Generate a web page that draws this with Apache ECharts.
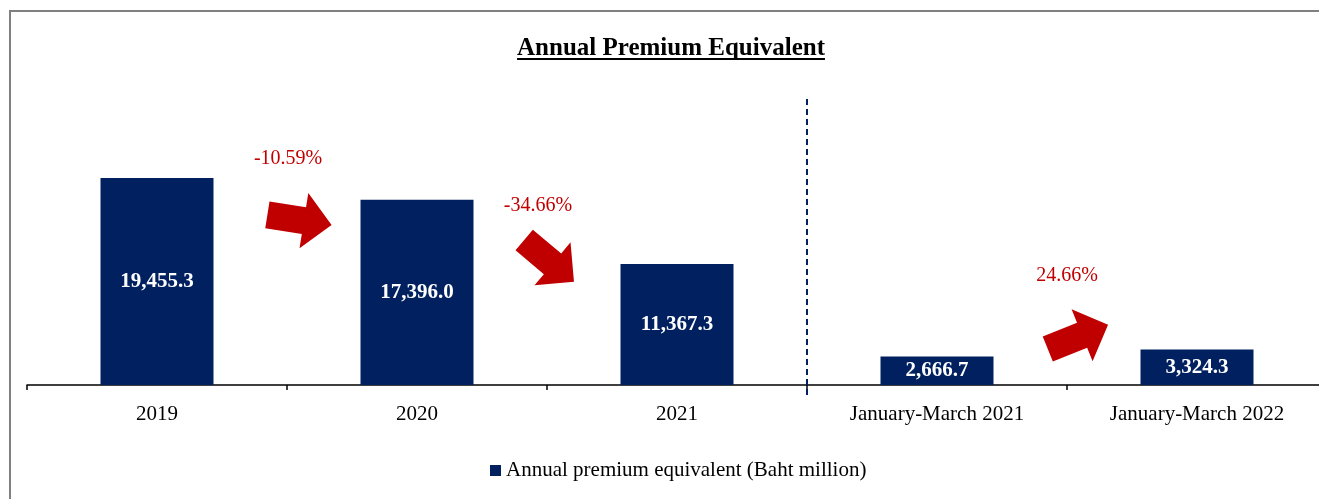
<!DOCTYPE html>
<html>
<head>
<meta charset="utf-8">
<title>Annual Premium Equivalent</title>
<script src="https://cdn.jsdelivr.net/npm/echarts@6/dist/echarts.min.js"></script>
<style>
  html, body { margin: 0; padding: 0; background: #fff; }
  #chart { width: 1319px; height: 499px; }
</style>
</head>
<body>
<div id="chart"></div>
<script>
  // values
  var categories = ['2019', '2020', '2021', 'January-March 2021', 'January-March 2022'];
  var premium = [19455.3, 17396.0, 11367.3, 2666.7, 3324.3];
  var seriesName = 'Annual premium equivalent (Baht million)';

  // growth annotations (text + where the arrow/label sits, in axis units)
  var changeText = ['-10.59%', '-34.66%', '24.66%'];
  var changeTextAt = [[0.504, 21250], [1.465, 16830], [3.5, 10250]];
  var arrowAt = [[0.548, 15510], [1.508, 11656], [3.542, 4512]];
  var arrowAngle = [-9, -40, 22];

  var serif = "'Liberation Serif', 'Times New Roman', serif";
  var navy = '#002060';
  var red = '#C00000';
  var arrowPath = 'path://M0,14.5 H37 V0 L65,28 L37,56 V41.5 H0 Z';
  var titleText = 'Annual Premium Equivalent';
  var titleFont = 'bold 25px ' + serif;

  // underline width = title width
  var ctx = document.createElement('canvas').getContext('2d');
  ctx.font = titleFont;
  var titleW = ctx.measureText(titleText).width;
  var titleX = 671 - titleW / 2;

  var chart = echarts.init(document.getElementById('chart'));

  chart.setOption({
    backgroundColor: '#fff',
    animation: false,
    title: {
      text: titleText,
      left: titleX,
      top: 36,
      padding: 0,
      textStyle: { fontFamily: serif, fontSize: 25, fontWeight: 'bold', color: '#000' }
    },
    legend: {
      data: [seriesName],
      left: 485,
      top: 455,
      itemWidth: 11,
      itemHeight: 11,
      icon: 'rect',
      textStyle: { fontFamily: serif, fontSize: 21, color: '#000' }
    },
    grid: { left: 27, right: -8, top: 95, bottom: 104, outerBoundsMode: 'none' },
    xAxis: [{
      type: 'category',
      data: categories,
      axisLine: { onZero: true, lineStyle: { color: '#000', width: 1.5 } },
      axisTick: { show: true, length: 5, lineStyle: { color: '#000', width: 1.5 } },
      axisLabel: { fontFamily: serif, fontSize: 21, color: '#000', margin: 9, interval: 0 },
      splitLine: { show: false }
    }, {
      type: 'value',
      min: -0.5,
      max: 4.5,
      show: false
    }],
    yAxis: {
      type: 'value',
      min: -950,
      max: 27250,
      show: false
    },
    graphic: [{
      type: 'rect',
      z: -1,
      shape: { x: 10, y: 11, width: 1400, height: 600 },
      style: { fill: null, stroke: '#808080', lineWidth: 2 }
    }, {
      type: 'line',
      shape: { x1: titleX, y1: 59, x2: titleX + titleW, y2: 59 },
      style: { stroke: '#000', lineWidth: 2 }
    }],
    series: [{
      name: seriesName,
      type: 'bar',
      data: premium,
      barWidth: 113,
      itemStyle: { color: navy },
      label: {
        show: true,
        position: 'inside',
        fontFamily: serif,
        fontSize: 21,
        fontWeight: 'bold',
        color: '#fff',
        formatter: function(p) {
          return p.value.toLocaleString('en-US', { minimumFractionDigits: 1, maximumFractionDigits: 1 });
        }
      }
    }, {
      // red block arrows + dashed divider
      type: 'scatter',
      xAxisIndex: 1,
      symbol: arrowPath,
      symbolSize: [65, 56],
      itemStyle: { color: red, opacity: 1 },
      emphasis: { disabled: true },
      data: arrowAt.map(function(p, i) {
        return { value: p, symbolRotate: arrowAngle[i] };
      }),
      markLine: {
        silent: true,
        symbol: 'none',
        label: { show: false },
        lineStyle: { color: navy, type: [6, 4], width: 2, opacity: 1 },
        data: [{ xAxis: 2.5 }]
      }
    }, {
      // percentage change labels
      type: 'scatter',
      xAxisIndex: 1,
      symbolSize: 0,
      itemStyle: { opacity: 1 },
      data: changeTextAt.map(function(p, i) {
        return { value: p, name: changeText[i] };
      }),
      label: {
        show: true,
        position: 'inside',
        fontFamily: serif,
        fontSize: 20,
        color: red,
        formatter: '{b}'
      }
    }]
  });
</script>
</body>
</html>
